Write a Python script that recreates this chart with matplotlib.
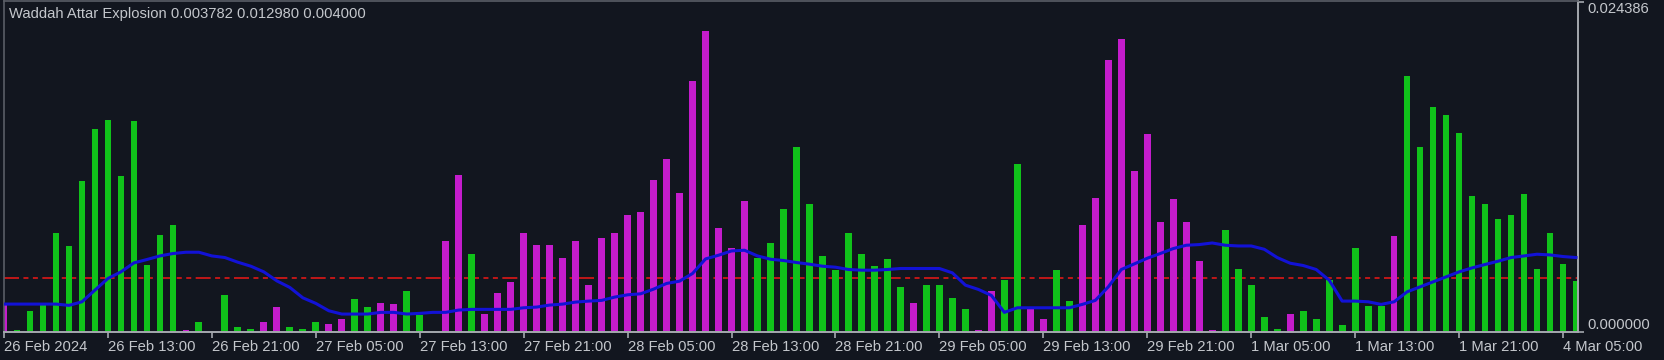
import matplotlib
matplotlib.use("Agg")
import matplotlib.pyplot as plt
import numpy as np

# ---- data (H1 bars, 26 Feb 2024 05:00 -> 4 Mar 2024 06:00) ----
wae_values = [
    0.002063, 0.000147, 0.001569, 0.001967, 0.007316, 0.006358, 0.011147, 0.014978,
    0.015693, 0.011493, 0.015567, 0.004936, 0.007198, 0.007883, 0.000147, 0.000737,
    0.000000, 0.002748, 0.000368, 0.000243, 0.000737, 0.001820, 0.000368, 0.000243,
    0.000737, 0.000611, 0.000958, 0.002409, 0.001820, 0.002159, 0.002063, 0.002999,
    0.001252, 0.000000, 0.006704, 0.011618, 0.005747, 0.001326, 0.002873, 0.003706,
    0.007316, 0.006461, 0.006461, 0.005503, 0.006704, 0.003463, 0.006947, 0.007316,
    0.008620, 0.008863, 0.011250, 0.012797, 0.010292, 0.018566, 0.022272, 0.007662,
    0.006211, 0.009703, 0.005503, 0.006579, 0.009113, 0.013652, 0.009452, 0.005621,
    0.004546, 0.007316, 0.005747, 0.004914, 0.005378, 0.003337, 0.002159, 0.003463,
    0.003463, 0.002527, 0.001694, 0.000147, 0.002999, 0.003831, 0.012451, 0.001694,
    0.000958, 0.004546, 0.002284, 0.007905, 0.009924, 0.020113, 0.021660, 0.011862,
    0.014610, 0.008156, 0.009821, 0.008156, 0.005253, 0.000147, 0.007537, 0.004664,
    0.003463, 0.001083, 0.000243, 0.001326, 0.001569, 0.000958, 0.003831, 0.000494,
    0.006211, 0.001916, 0.001916, 0.007073, 0.018912, 0.013652, 0.016650, 0.016039,
    0.014735, 0.010071, 0.009452, 0.008377, 0.008620, 0.010189, 0.004664, 0.007316,
    0.005032, 0.003782,
]
# U = trend up (green), D = trend down (magenta)
trend = list(
    "DUUUUUUUUUUUUUDU"
    "UUUUDDUUUDDUUDDU"
    "UDDDUDDDDDDDDDDD"
    "DDDDDDDDDDUUUUUU"
    "UUUUUUDUUUUDDUUD"
    "DUUDDDDDDDDDDDUU"
    "UUUDUUUUUUUDUUUU"
    "UUUUUUUUUU"
)
explosion_line = [
    0.002063, 0.002063, 0.002063, 0.002063, 0.002063, 0.001967, 0.002232, 0.003094,
    0.003956, 0.004443, 0.005106, 0.005356, 0.005621, 0.005798, 0.005894, 0.005894,
    0.005621, 0.005503, 0.005157, 0.004862, 0.004443, 0.003779, 0.003293, 0.002527,
    0.002114, 0.001569, 0.001326, 0.001326, 0.001326, 0.001451, 0.001451, 0.001326,
    0.001378, 0.001451, 0.001451, 0.001621, 0.001672, 0.001672, 0.001672, 0.001672,
    0.001790, 0.001842, 0.001989, 0.002063, 0.002210, 0.002284, 0.002335, 0.002579,
    0.002748, 0.002822, 0.003168, 0.003588, 0.003757, 0.004325, 0.005400, 0.005673,
    0.005990, 0.006041, 0.005621, 0.005378, 0.005282, 0.005135, 0.005010, 0.004862,
    0.004789, 0.004619, 0.004568, 0.004568, 0.004619, 0.004693, 0.004693, 0.004693,
    0.004693, 0.004369, 0.003463, 0.003146, 0.002704, 0.001451, 0.001790, 0.001790,
    0.001790, 0.001790, 0.001790, 0.002041, 0.002335, 0.003337, 0.004619, 0.005032,
    0.005452, 0.005798, 0.006166, 0.006410, 0.006461, 0.006579, 0.006410, 0.006358,
    0.006358, 0.006115, 0.005503, 0.005083, 0.004914, 0.004619, 0.003831, 0.002284,
    0.002284, 0.002232, 0.002041, 0.002232, 0.002969, 0.003337, 0.003706, 0.004074,
    0.004443, 0.004737, 0.004988, 0.005231, 0.005503, 0.005621, 0.005747, 0.005695,
    0.005577, 0.005503,
]
dead_zone = 0.004
y_max_label = 0.024386
title_text = "Waddah Attar Explosion 0.003782 0.012980 0.004000"
tick_every = 8
x_labels = ["26 Feb 2024", "26 Feb 13:00", "26 Feb 21:00", "27 Feb 05:00",
            "27 Feb 13:00", "27 Feb 21:00", "28 Feb 05:00", "28 Feb 13:00",
            "28 Feb 21:00", "29 Feb 05:00", "29 Feb 13:00", "29 Feb 21:00",
            "1 Mar 05:00", "1 Mar 13:00", "1 Mar 21:00", "4 Mar 05:00"]

# ---- style ----
BG = "#12161f"
GREEN = "#10c21a"
MAGENTA = "#c41ccc"
BLUE = "#1212d6"
RED = "#c01818"
TXT = "#c4c7cc"
GRID_L = "#5a5e66"
GRID_R = "#a4a8ae"

plt.rcParams["font.family"] = ["Liberation Sans", "DejaVu Sans"]
plt.rcParams["lines.scale_dashes"] = False

W, H = 1664, 360
fig = plt.figure(figsize=(W / 100, H / 100), dpi=100, facecolor=BG)
ax = fig.add_axes([4 / W, 28 / H, (1578 - 4) / W, (359 - 28) / H], facecolor=BG)

n = len(wae_values)
x = np.arange(n)
vals = np.array(wae_values)
cols = [GREEN if t == "U" else MAGENTA for t in trend]

ax.axhline(dead_zone, color=RED, lw=1.4, zorder=1,
           linestyle=(0, (10.8, 3.2, 3.6, 3.2, 3.6, 3.2)))
ax.bar(x, vals, width=0.52, color=cols, zorder=2, linewidth=0)
ax.plot(x, explosion_line, color=BLUE, lw=2.2, zorder=3, solid_joinstyle="round")

ax.set_xlim((4 - 3) / 13, (1578 - 3) / 13)
ax.set_ylim(0, y_max_label * 1.003)

# spines
for side in ["left", "top"]:
    ax.spines[side].set_color(GRID_L)
    ax.spines[side].set_linewidth(1.2)
for side in ["right", "bottom"]:
    ax.spines[side].set_color(GRID_R)
    ax.spines[side].set_linewidth(1.4)

# x ticks
tick_pos = np.arange(0, n, tick_every)[:len(x_labels)]
ax.set_xticks(tick_pos)
ax.set_xticklabels(x_labels, ha="left")
ax.tick_params(axis="x", direction="out", length=4.3, width=1.2, color=GRID_R,
               labelcolor=TXT, labelsize=10.6, pad=1.5)
for lbl in ax.get_xticklabels():
    lbl.set_x(lbl.get_position()[0])

# y ticks on right
ax.yaxis.tick_right()
ax.set_yticks([0, y_max_label])
ax.set_yticklabels(["0.000000", f"{y_max_label:.6f}"])
ax.tick_params(axis="y", direction="out", length=4.3, width=1.2, color=GRID_R,
               labelcolor=TXT, labelsize=10.6, pad=2.2)
ylbls = ax.get_yticklabels()
ylbls[0].set_va("bottom")
ylbls[1].set_va("top")

ax.text(9 / W, 14 / H, title_text, transform=fig.transFigure, color=TXT,
        fontsize=10.6, ha="left", va="center")
# convert title to figure coords from top
ax.texts[-1].set_position((9 / W, 1 - 14 / H))

fig.savefig("out.png", dpi=100, facecolor=BG)
